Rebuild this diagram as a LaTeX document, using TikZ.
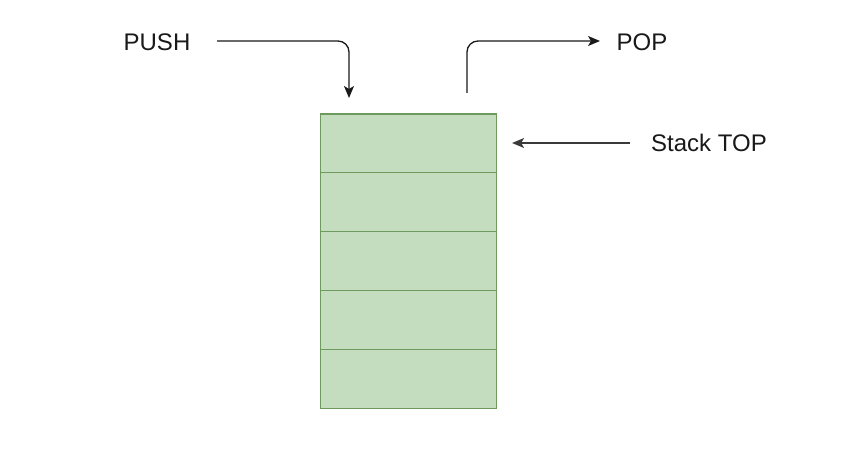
\documentclass[tikz,border=0pt]{standalone}
\usepackage{fontspec}
\setmainfont{Liberation Sans}
\usetikzlibrary{arrows.meta}
\definecolor{cellfill}{HTML}{C3DDBE}
\definecolor{celldraw}{HTML}{6E9A5E}
\definecolor{linec}{HTML}{1A1A1A}
\definecolor{linec2}{HTML}{3A3A3A}
\tikzset{
  cell/.style={draw=celldraw, fill=cellfill, line width=1.1pt, minimum width=176pt, minimum height=58.8pt, inner sep=0pt, anchor=north west},
  lbl/.style={font=\fontsize{24}{28}\selectfont, inner sep=0pt, text=black!90},
  conn/.style={draw=linec, line width=1.3pt, rounded corners=11pt, -{Stealth[length=12pt,width=10pt,inset=3pt]}},
}
\begin{document}
\begin{tikzpicture}[x=1pt,y=-1pt]
\useasboundingbox (0,0) rectangle (860,449);
\fill[white] (0,0) rectangle (860,449);
\node[cell] (c1) at (320,113.5) {};
\node[cell] (c2) at (320,172.3) {};
\node[cell] (c3) at (320,231.1) {};
\node[cell] (c4) at (320,289.9) {};
\node[cell] (c5) at (320,348.7) {};
\node[lbl] (push) at (157,42) {PUSH};
\node[lbl] (pop) at (642,42) {POP};
\node[lbl] (top) at (709,143) {Stack TOP};
\coordinate (pushs) at (217,41);
\coordinate (pushe) at (349,98);
\coordinate (pops) at (467,93);
\coordinate (pope) at (600,41);
\draw[conn] (pushs) -| (pushe);
\draw[conn] (pops) |- (pope);
\draw[conn, draw=linec2, shorten <=21pt, shorten >=15pt] (top.west) -- (top.west -| c1.east);
\end{tikzpicture}
\end{document}
